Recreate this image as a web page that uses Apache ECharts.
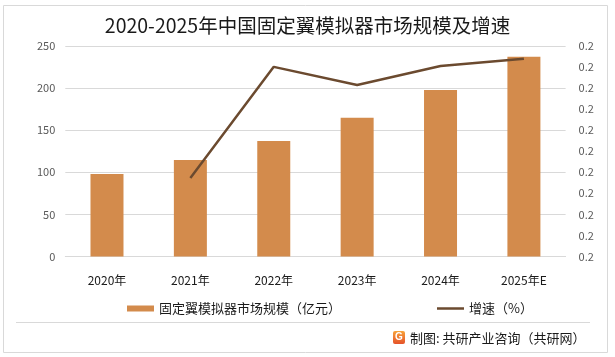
<!DOCTYPE html>
<html><head><meta charset="utf-8">
<script src="https://cdn.jsdelivr.net/npm/echarts@6/dist/echarts.min.js"></script>
<style>html,body{margin:0;padding:0;background:#fff}#c{width:615px;height:357px}</style>
</head><body><div id="c"></div>
<script>
const categories = ['2020年','2021年','2022年','2023年','2024年','2025年E'];
const marketSize = [98, 114.5, 137, 164.5, 197.5, 237];
const growth = [null, 0.1786, 0.205, 0.2007, 0.2052, 0.2069];
const leftTicks = {min: 0, max: 250, interval: 50};
const rightTicks = {min: 0.16, max: 0.21, interval: 0.005};
const titleText = '2020-2025年中国固定翼模拟器市场规模及增速';
const barName = '固定翼模拟器市场规模（亿元）';
const lineName = '增速（%）';
const footerText = '制图: 共研产业咨询（共研网）';

const font = '"Microsoft YaHei","Noto Sans CJK SC","Noto Sans",sans-serif';
const chart = echarts.init(document.getElementById('c'));
chart.setOption({
  animation: false,
  textStyle: {fontFamily: font},
  title: {text: titleText, left: 'center', top: 11,
    textStyle: {fontSize: 19.5, fontWeight: 'normal', color: '#1a1a1a', fontFamily: font}},
  grid: {left: 65.3, right: 49.4, top: 45.8, bottom: 100.5},
  legend: {left: 122, top: 297, itemWidth: 27, itemHeight: 6, itemGap: 96,
    textStyle: {fontSize: 13, color: '#1a1a1a', fontFamily: font},
    data: [{name: barName, icon: 'rect'},
           {name: lineName, icon: 'path://M0,0L54,0L54,5L0,5Z', itemStyle: {color: '#6B4A2F'}}]},
  xAxis: {type: 'category', data: categories,
    axisLine: {lineStyle: {color: '#d9d9d9', width: 1}}, axisTick: {show: false},
    axisLabel: {color: '#1a1a1a', fontSize: 12, margin: 18, fontFamily: font}},
  yAxis: [
    {type: 'value', min: leftTicks.min, max: leftTicks.max, interval: leftTicks.interval,
      axisLine: {show: false}, axisTick: {show: false},
      axisLabel: {color: '#595959', fontSize: 11, margin: 10},
      splitLine: {lineStyle: {color: '#d9d9d9', width: 1}}},
    {type: 'value', min: rightTicks.min, max: rightTicks.max, interval: rightTicks.interval,
      axisLine: {show: false}, axisTick: {show: false},
      axisLabel: {color: '#595959', fontSize: 11, margin: 13, formatter: v => v.toFixed(1)},
      splitLine: {show: false}}
  ],
  series: [
    {name: barName, type: 'bar', data: marketSize, barWidth: 33,
      itemStyle: {color: '#D38B4C'}},
    {name: lineName, type: 'line', yAxisIndex: 1, data: growth, symbol: 'none',
      lineStyle: {color: '#6B4A2F', width: 2.5}, itemStyle: {color: '#6B4A2F'}}
  ],
  graphic: [
    {type: 'rect', shape: {x: 3.5, y: 5.5, width: 604, height: 347},
      style: {fill: 'none', stroke: '#d9d9d9', lineWidth: 1}, silent: true},
    {type: 'line', shape: {x1: 16, y1: 322.5, x2: 590, y2: 322.5},
      style: {stroke: '#d9d9d9', lineWidth: 1}, silent: true},
    {type: 'rect', shape: {x: 393, y: 331, width: 12, height: 13, r: 2},
      style: {fill: new echarts.graphic.LinearGradient(0,0,0,1,[{offset:0,color:'#F7A33A'},{offset:1,color:'#E5522A'}])}},
    {type: 'text', x: 399, y: 337.5, style: {text: 'G', fill: '#fff', fontSize: 10, fontWeight: 'bold',
      align: 'center', verticalAlign: 'middle', fontFamily: 'Arial,sans-serif'}},
    {type: 'text', x: 410, y: 338, style: {text: footerText, fill: '#1a1a1a', fontSize: 13,
      verticalAlign: 'middle', fontFamily: font}}
  ]
});
</script></body></html>
